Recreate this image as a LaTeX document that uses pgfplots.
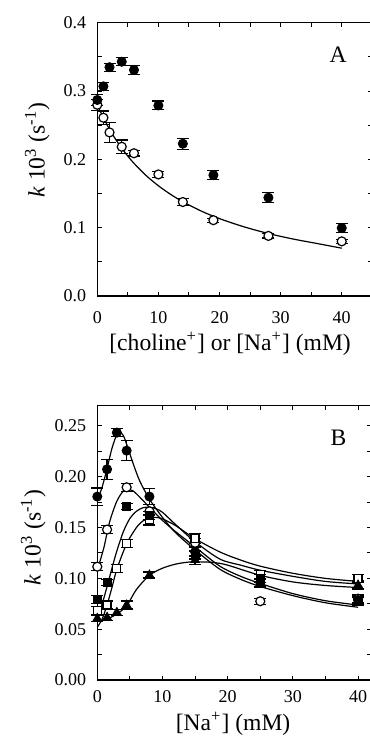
\documentclass[border=0pt]{standalone}
\usepackage{fontspec}
\setmainfont{Liberation Serif}
\usepackage{pgfplots}
\pgfplotsset{compat=1.18}
\begin{document}
\begin{tikzpicture}
\path[use as bounding box] (0,0) rectangle (185pt,376pt);
\pgfplotsset{
  common/.style={
    scale only axis, clip=false,
    tick align=inside, xtick pos=both, ytick pos=both,
    axis line style={line width=0.6pt},
    every tick/.style={black, line width=0.5pt},
    major tick length=2.2pt, minor tick length=2.2pt,
    tick label style={font=\fontsize{9}{10}\selectfont},
    label style={font=\fontsize{11.8}{13}\selectfont},
    /pgf/number format/assume math mode=true,
    xmin=0, xtick={0,10,20,30,40}, minor x tick num=1, minor y tick num=1,
    yticklabel style={xshift=-2pt},
  },
  fm/.style={only marks, mark=*, mark size=2.25pt, mark options={fill=black, draw=black, line width=0.5pt},
    error bars/.cd, y dir=both, y explicit, error mark=-, error mark options={mark size=3pt, line width=0.6pt, rotate=90}, error bar style={line width=0.6pt}},
  om/.style={only marks, mark=*, mark size=2.25pt, mark options={fill=white, draw=black, line width=0.6pt},
    error bars/.cd, y dir=both, y explicit, error mark=-, error mark options={mark size=3pt, line width=0.6pt, rotate=90}, error bar style={line width=0.6pt}},
  fsq/.style={only marks, mark=square*, mark size=2pt, mark options={fill=black, draw=black, line width=0.5pt},
    error bars/.cd, y dir=both, y explicit, error mark=-, error mark options={mark size=3pt, line width=0.6pt, rotate=90}, error bar style={line width=0.6pt}},
  osq/.style={only marks, mark=square*, mark size=2pt, mark options={fill=white, draw=black, line width=0.6pt},
    error bars/.cd, y dir=both, y explicit, error mark=-, error mark options={mark size=3pt, line width=0.6pt, rotate=90}, error bar style={line width=0.6pt}},
  ftri/.style={only marks, mark=triangle*, mark size=2.4pt, mark options={fill=black, draw=black, line width=0.5pt},
    error bars/.cd, y dir=both, y explicit, error mark=-, error mark options={mark size=3pt, line width=0.6pt, rotate=90}, error bar style={line width=0.6pt}},
  fit/.style={smooth, no marks, black, line width=0.6pt},
}
% ---------------- Panel A ----------------
\begin{axis}[common,
  at={(48.65pt,228pt)}, anchor=south west,
  width=137.5pt, height=136.6pt,
  xmax=45, ymin=0, ymax=0.4,
  ytick={0,0.1,0.2,0.3,0.4},
  yticklabel style={/pgf/number format/.cd, fixed, fixed zerofill, precision=1},
  xticklabel style={yshift=-4pt},
  xlabel={[choline\textsuperscript{+}] or [Na\textsuperscript{+}] (mM)},
  xlabel style={at={(axis description cs:0.483,0)}, anchor=center, yshift=-24pt},
  ylabel={\textit{k} 10\textsuperscript{3} (s\textsuperscript{-1})},
  ylabel style={at={(axis description cs:0,0.534)}, anchor=center, yshift=30pt},
]
\addplot[fit] coordinates {
(0,0.280) (1,0.2608) (2,0.2441) (3,0.2294) (4,0.2164) (5,0.2047) (6,0.1943)
(8,0.1763) (10,0.1614) (12,0.1488) (14,0.1380) (17,0.1244) (20,0.1133)
(24,0.1013) (28,0.0915) (32,0.0835) (36,0.0768) (40,0.0700)};
\addplot[om] coordinates {
(0,0.280) +- (0,0.008)
(1,0.261) +- (0,0.010)
(2,0.2395) +- (0,0.015)
(4,0.2185) +- (0,0.010)
(6,0.209) +- (0,0.004)
(10,0.178) +- (0,0.004)
(14,0.1376) +- (0,0.005)
(19,0.111) +- (0,0.003)
(28,0.088) +- (0,0.003)
(40,0.080) +- (0,0.003)};
\addplot[fm] coordinates {
(0,0.287) +- (0,0.008)
(1,0.307) +- (0,0.006)
(2,0.335) +- (0,0.006)
(4,0.343) +- (0,0.006)
(6,0.331) +- (0,0.007)
(10,0.279) +- (0,0.0065)
(14,0.223) +- (0,0.008)
(19,0.177) +- (0,0.007)
(28,0.144) +- (0,0.007)
(40,0.0995) +- (0,0.007)};
\node[font=\fontsize{11.8}{13}\selectfont] at (axis cs:39.4,0.353) {A};
\end{axis}
% ---------------- Panel B ----------------
\begin{axis}[common,
  at={(48.65pt,36pt)}, anchor=south west,
  width=136.9pt, height=137.2pt,
  xmax=42, ymin=0, ymax=0.27,
  ytick={0,0.05,0.10,0.15,0.20,0.25},
  yticklabel style={/pgf/number format/.cd, fixed, fixed zerofill, precision=2},
  xticklabel style={yshift=-1.5pt},
  xlabel={[Na\textsuperscript{+}] (mM)},
  xlabel style={at={(axis description cs:0.496,0)}, anchor=center, yshift=-21.75pt},
  ylabel={\textit{k} 10\textsuperscript{3} (s\textsuperscript{-1})},
  ylabel style={at={(axis description cs:0,0.519)}, anchor=center, yshift=32pt},
]
% fitted curves
\addplot[fit] coordinates {
(0,0.176) (0.75,0.190) (1.5,0.208) (2.25,0.228) (3,0.2415) (3.5,0.2435) (4,0.2405)
(4.5,0.232) (5.5,0.213) (6.5,0.196) (8,0.178) (10,0.160) (12,0.145) (15,0.128)
(18.8,0.109) (22,0.099) (25,0.092) (30,0.083) (35,0.076) (40,0.0716)};
\addplot[fit] coordinates {
(0,0.108) (1,0.130) (1.5,0.145) (2,0.158) (3,0.176) (4,0.186) (4.7,0.1875)
(5.5,0.186) (6.5,0.180) (8,0.170) (10,0.157) (12,0.146) (15,0.131)
(18.8,0.112) (22,0.102) (25,0.095) (30,0.085) (35,0.078) (40,0.0738)};
\addplot[fit] coordinates {
(0,0.062) (0.75,0.075) (1.5,0.092) (2.25,0.110) (3,0.127) (4,0.146) (5,0.159)
(6,0.166) (7,0.1695) (8,0.170) (9,0.1685) (10,0.165) (12,0.153) (15,0.136)
(18.8,0.119) (22,0.113) (25,0.108) (30,0.102) (35,0.097) (40,0.0945)};
\addplot[fit] coordinates {
(0,0.052) (0.75,0.060) (1.5,0.074) (2.25,0.091) (3,0.109) (4.5,0.134) (6,0.150)
(7,0.1565) (8,0.1595) (9,0.160) (10,0.1585) (12,0.152) (15,0.139)
(18.8,0.126) (22,0.118) (25,0.112) (30,0.105) (35,0.100) (40,0.097)};
\addplot[fit] coordinates {
(0,0.058) (1.5,0.060) (3,0.065) (4.5,0.073) (6,0.089) (8,0.103) (10,0.110)
(12,0.1140) (14,0.1160) (16,0.1162) (18,0.1155) (20,0.1130) (25,0.103)
(30,0.0965) (35,0.093) (40,0.091)};
% data
\addplot[om] coordinates {
(0,0.1115) +- (0,0.004)
(1.5,0.148) +- (0,0.004)
(4.5,0.1896) +- (0,0.004)
(8,0.166) +- (0,0.004)
(15,0.135) +- (0,0.004)
(25,0.0775) +- (0,0.003)
(40,0.080) +- (0,0.004)};
\addplot[osq] coordinates {
(0,0.068) +- (0,0.004)
(1.5,0.0738) +- (0,0.004)
(3,0.110) +- (0,0.004)
(4.5,0.134) +- (0,0.004)
(8,0.1575) +- (0,0.005)
(15,0.139) +- (0,0.005)
(25,0.104) +- (0,0.004)
(40,0.100) +- (0,0.004)};
\addplot[fsq] coordinates {
(0,0.0794) +- (0,0.004)
(1.5,0.0958) +- (0,0.003)
(4.5,0.171) +- (0,0.003)
(8,0.162) +- (0,0.004)
(15,0.123) +- (0,0.004)
(25,0.100) +- (0,0.004)
(40,0.077) +- (0,0.004)};
\addplot[ftri] coordinates {
(0,0.0607) +- (0,0.003)
(1.5,0.0617) +- (0,0.003)
(3,0.0666) +- (0,0.003)
(4.5,0.0738) +- (0,0.004)
(8,0.1033) +- (0,0.003)
(15,0.118) +- (0,0.004)
(25,0.095) +- (0,0.004)
(40,0.0935) +- (0,0.004)};
\addplot[fm] coordinates {
(0,0.1805) +- (0,0.0085)
(1.5,0.2073) +- (0,0.010)
(3,0.2434) +- (0,0.004)
(4.5,0.2257) +- (0,0.010)
(8,0.1805) +- (0,0.008)
(15,0.126) +- (0,0.004)
(25,0.096) +- (0,0.004)
(40,0.0787) +- (0,0.004)};
\node[font=\fontsize{11.8}{13}\selectfont] at (axis cs:37,0.238) {B};
\end{axis}
\end{tikzpicture}
\end{document}
